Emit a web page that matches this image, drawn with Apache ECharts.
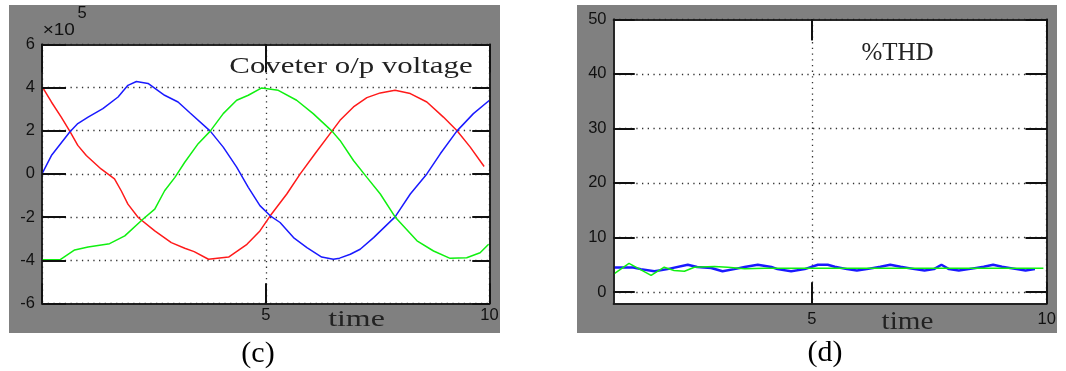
<!DOCTYPE html>
<html><head><meta charset="utf-8">
<script src="https://cdn.jsdelivr.net/npm/echarts@6/dist/echarts.min.js"></script>
<style>html,body{margin:0;padding:0;background:#fff}#wrap{position:relative;width:1066px;height:371px}#c,#k,#t{position:absolute;left:0;top:0;width:1066px;height:371px}#k{z-index:2;pointer-events:none}#t{z-index:3;pointer-events:none}</style>
</head><body><div id="wrap"><div id="c"></div><div id="k"></div><div id="t"></div></div>
<script>
// Panel (c): converter output voltage, values in units of 1e5
const voltRed = [[0.02,3.98],[0.21,3.33],[0.43,2.63],[0.62,1.98],[0.80,1.32],[0.99,0.85],[1.32,0.23],[1.62,-0.23],[1.77,-0.78],[1.92,-1.4],[2.15,-2.02],[2.52,-2.64],[2.89,-3.18],[3.19,-3.44],[3.40,-3.6],[3.72,-3.95],[4.17,-3.85],[4.58,-3.26],[4.87,-2.64],[5.10,-1.94],[5.47,-0.93],[5.77,0],[6.10,0.93],[6.48,1.98],[6.66,2.48],[6.96,3.1],[7.26,3.53],[7.56,3.75],[7.89,3.87],[8.23,3.72],[8.60,3.33],[8.97,2.63],[9.27,2.01],[9.57,1.24],[9.88,0.34]];
const voltBlue = [[0,0],[0.21,0.85],[0.62,1.94],[0.80,2.33],[1.03,2.63],[1.36,3.02],[1.70,3.56],[1.92,4.1],[2.11,4.28],[2.37,4.19],[2.74,3.64],[3.04,3.33],[3.31,2.82],[3.76,1.98],[4.05,1.24],[4.35,0.31],[4.61,-0.62],[4.87,-1.47],[5.10,-1.94],[5.32,-2.25],[5.62,-2.95],[5.92,-3.41],[6.25,-3.85],[6.51,-3.95],[6.65,-3.9],[6.89,-3.72],[7.11,-3.49],[7.41,-2.95],[7.89,-1.99],[8.23,-0.93],[8.60,0],[8.90,0.93],[9.27,1.98],[9.64,2.79],[10,3.41]];
const voltGreen = [[0,-3.98],[0.40,-3.98],[0.73,-3.52],[1.03,-3.38],[1.51,-3.23],[1.85,-2.87],[2.26,-2.09],[2.52,-1.63],[2.74,-0.78],[2.97,-0.16],[3.19,0.54],[3.49,1.4],[3.76,1.98],[4.05,2.79],[4.35,3.41],[4.61,3.64],[4.91,3.98],[5.28,3.87],[5.69,3.41],[6.06,2.79],[6.48,1.98],[6.66,1.55],[6.96,0.62],[7.26,-0.16],[7.56,-0.93],[7.89,-1.99],[8.38,-3.1],[8.75,-3.57],[9.12,-3.91],[9.49,-3.88],[9.79,-3.65],[9.98,-3.26]];
// Panel (d): %THD
const thdBlue = [[0.79,4.5],[1.2,4.5],[1.36,4.2],[1.65,3.8],[1.93,4.2],[2.36,5.0],[2.56,4.6],[2.86,4.4],[3.10,3.8],[3.35,4.2],[3.57,4.6],[3.85,5.0],[4.14,4.6],[4.27,4.2],[4.56,3.8],[4.85,4.2],[5.13,5.0],[5.34,5.0],[5.49,4.65],[5.75,4.2],[5.96,3.95],[6.17,4.2],[6.46,4.65],[6.67,5.0],[6.89,4.65],[7.19,4.2],[7.40,3.95],[7.60,4.2],[7.76,5.0],[7.92,4.2],[8.13,3.95],[8.34,4.2],[8.66,4.65],[8.86,5.0],[9.05,4.65],[9.36,4.2],[9.55,3.95],[9.75,4.2]];
const thdGreen = [[0.79,3.35],[1.11,5.27],[1.58,3.04],[1.86,4.55],[2.07,3.95],[2.29,3.82],[2.50,4.55],[2.93,4.67],[3.21,4.55],[3.57,4.25],[4.0,4.36],[9.93,4.36]];
// Tick labels
const voltXTicks = [5, 10];
const thdXTicks = [5, 10];
const thdYTicks = [0, 10, 20, 30, 40, 50];

const gridLine = {show: true, lineStyle: {color: '#333', width: 1.3, type: [1.3, 4.4]}};
const labelFont = {fontSize: 16.5, color: '#111', fontFamily: '"Liberation Sans", Arial, sans-serif'};
const frameLine = {show: true, onZero: false, lineStyle: {color: '#1a1a1a', width: 1.5}};
const tick = (len, extra) => Object.assign({show: true, inside: true, length: len, lineStyle: {color: '#111', width: 2}}, extra || {});
const gridBoxes = [
  {left: 42, top: 44.3, width: 447.5, height: 259.2},
  {left: 613.5, top: 19.3, width: 433.2, height: 284.2}
];

// Builds the four axes of both panels; withLabels=false gives ticks only
function buildAxes(withLabels) {
  const lab = (extra) => withLabels ? Object.assign({}, extra, labelFont) : {show: false};
  const split = withLabels ? gridLine : {show: false};
  return {
    xAxis: [
      {type: 'value', gridIndex: 0, position: 'bottom', min: 0, max: 10, interval: 5, axisLine: frameLine, axisTick: tick(20), axisLabel: lab({customValues: voltXTicks, margin: 3}), splitLine: split},
      {type: 'value', gridIndex: 0, position: 'top', min: 0, max: 10, interval: 5, axisLine: frameLine, axisTick: tick(28), axisLabel: {show: false}, splitLine: {show: false}},
      {type: 'value', gridIndex: 1, position: 'bottom', min: 0.78, max: 10, axisLine: frameLine, axisTick: tick(21, {customValues: thdXTicks}), axisLabel: lab({customValues: thdXTicks, margin: 7}), splitLine: split},
      {type: 'value', gridIndex: 1, position: 'top', min: 0.78, max: 10, axisLine: frameLine, axisTick: tick(21, {customValues: thdXTicks}), axisLabel: {show: false}, splitLine: {show: false}}
    ],
    yAxis: [
      {type: 'value', gridIndex: 0, position: 'left', min: -6, max: 6, interval: 2, axisLine: frameLine, axisTick: tick(24), axisLabel: lab({margin: 7}), splitLine: split},
      {type: 'value', gridIndex: 0, position: 'right', min: -6, max: 6, interval: 2, axisLine: frameLine, axisTick: tick(17), axisLabel: {show: false}, splitLine: {show: false}},
      {type: 'value', gridIndex: 1, position: 'left', min: -2.1, max: 50, axisLine: frameLine, axisTick: tick(21, {customValues: thdYTicks}), axisLabel: lab({customValues: thdYTicks, margin: 7}), splitLine: split},
      {type: 'value', gridIndex: 1, position: 'right', min: -2.1, max: 50, axisLine: frameLine, axisTick: tick(21, {customValues: thdYTicks}), axisLabel: {show: false}, splitLine: {show: false}}
    ]
  };
}

// Base chart: panels, grid lines, labels, series
const chart = echarts.init(document.getElementById('c'), null, {renderer: 'canvas'});
const baseAxes = buildAxes(true);
chart.setOption({
  animation: false,
  backgroundColor: '#fff',
  grid: gridBoxes.map(g => Object.assign({show: true, backgroundColor: '#fff', borderWidth: 0}, g)),
  xAxis: baseAxes.xAxis,
  yAxis: baseAxes.yAxis,
  series: [
    {type: 'line', xAxisIndex: 0, yAxisIndex: 0, data: voltRed, showSymbol: false, lineStyle: {color: '#ff1a1a', width: 1.5}},
    {type: 'line', xAxisIndex: 0, yAxisIndex: 0, data: voltBlue, showSymbol: false, lineStyle: {color: '#1a1aff', width: 1.5}},
    {type: 'line', xAxisIndex: 0, yAxisIndex: 0, data: voltGreen, showSymbol: false, lineStyle: {color: '#10f010', width: 1.5}},
    {type: 'line', xAxisIndex: 2, yAxisIndex: 2, data: thdBlue, showSymbol: false, lineStyle: {color: '#1a1aff', width: 2.5}},
    {type: 'line', xAxisIndex: 2, yAxisIndex: 2, data: thdGreen, showSymbol: false, lineStyle: {color: '#10f010', width: 1.5}}
  ],
  graphic: [
    {type: 'rect', z: -100, shape: {x: 9, y: 5, width: 491, height: 328}, style: {fill: '#808080'}},
    {type: 'rect', z: -100, shape: {x: 577, y: 5, width: 480, height: 328}, style: {fill: '#808080'}}
  ]
});

// Tick overlay: same axes, ticks and frame only
const tickChart = echarts.init(document.getElementById('k'), null, {renderer: 'canvas'});
const tickAxes = buildAxes(false);
tickChart.setOption({
  animation: false,
  backgroundColor: 'transparent',
  grid: gridBoxes.map(g => Object.assign({show: false}, g)),
  xAxis: tickAxes.xAxis,
  yAxis: tickAxes.yAxis,
  series: []
});

// Text overlay (titles, axis names, captions)
const texts = echarts.init(document.getElementById('t'), null, {renderer: 'canvas'});
texts.setOption({
  animation: false,
  backgroundColor: 'transparent',
  graphic: [
    {type: 'text', x: 58.8, y: 30, scaleX: 1.15, style: {text: '×10', font: '16.5px "Liberation Sans", Arial, sans-serif', fill: '#111', align: 'center', verticalAlign: 'middle'}},
    {type: 'text', x: 82, y: 13.5, style: {text: '5', font: '16.5px "Liberation Sans", Arial, sans-serif', fill: '#111', align: 'center', verticalAlign: 'middle'}},
    {type: 'text', x: 351, y: 67.5, scaleX: 1.36, style: {text: 'Coveter o/p voltage', font: '22.7px "Liberation Serif", serif', fill: '#222', align: 'center', verticalAlign: 'middle'}},
    {type: 'text', x: 356.5, y: 320, scaleX: 1.33, style: {text: 'time', font: '24px "Liberation Serif", serif', fill: '#222', align: 'center', verticalAlign: 'middle'}},
    {type: 'text', x: 897.5, y: 53.3, style: {text: '%THD', font: '25px "Liberation Serif", serif', fill: '#222', align: 'center', verticalAlign: 'middle'}},
    {type: 'text', x: 907.5, y: 322, scaleX: 1.12, style: {text: 'time', font: '26px "Liberation Serif", serif', fill: '#222', align: 'center', verticalAlign: 'middle'}},
    {type: 'text', x: 258, y: 354, style: {text: '(c)', font: '30px "Liberation Serif", serif', fill: '#000', align: 'center', verticalAlign: 'middle'}},
    {type: 'text', x: 825, y: 353, style: {text: '(d)', font: '30px "Liberation Serif", serif', fill: '#000', align: 'center', verticalAlign: 'middle'}}
  ]
});
</script></body></html>
